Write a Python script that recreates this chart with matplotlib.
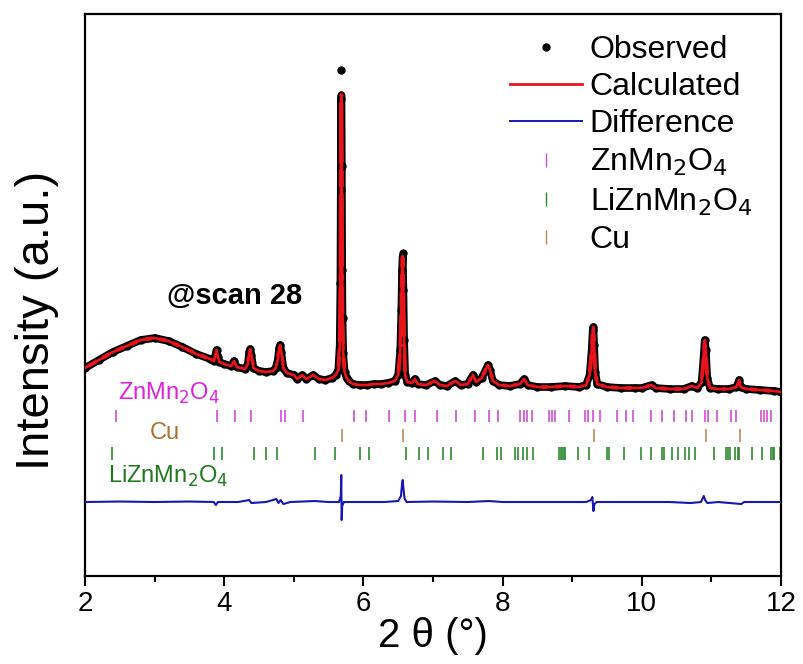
import numpy as np
import matplotlib
matplotlib.use("Agg")
import matplotlib.pyplot as plt
import matplotlib.patheffects as pe
from matplotlib.lines import Line2D

plt.rcParams['font.family'] = ['Liberation Sans', 'DejaVu Sans']

# observed profile (2theta, intensity a.u.)
obs_x = [2.00, 2.20, 2.40, 2.60, 2.80, 3.00, 3.20, 3.40, 3.60, 3.80,
         3.85, 3.87, 3.89, 3.91, 3.93, 4.00, 4.10, 4.14, 4.18,
         4.30, 4.34, 4.36, 4.375, 4.39, 4.42, 4.50, 4.60, 4.70,
         4.74, 4.77, 4.79, 4.805, 4.82, 4.85, 4.90, 5.00, 5.05, 5.12, 5.18,
         5.28, 5.36, 5.45, 5.55, 5.60, 5.64,
         5.66, 5.67, 5.675, 5.68, 5.685, 5.69, 5.695, 5.70, 5.71, 5.73,
         5.76, 5.79, 5.85, 5.95, 6.05, 6.15, 6.25, 6.35, 6.45, 6.50,
         6.53, 6.545, 6.555, 6.565, 6.575, 6.585, 6.60, 6.63, 6.70, 6.74,
         6.78, 6.90, 7.03, 7.10, 7.20, 7.32, 7.40, 7.50, 7.575, 7.62,
         7.70, 7.79, 7.82, 7.86, 7.95, 8.10, 8.25, 8.31, 8.36, 8.50,
         8.70, 8.90, 9.10, 9.20, 9.25, 9.28, 9.295, 9.305, 9.315, 9.33,
         9.36, 9.50, 9.70, 9.90, 10.00, 10.14, 10.20, 10.40, 10.60, 10.72,
         10.80, 10.86, 10.89, 10.905, 10.92, 10.94, 10.98, 11.10, 11.25, 11.36,
         11.40, 11.42, 11.50, 11.70, 11.90, 12.00]
obs_y = [208, 216, 224, 230, 236, 238, 235, 229, 222, 217,
         215, 220, 226, 219, 214, 212, 210, 215, 209,
         207, 212, 224, 227, 221, 208, 205, 204, 205,
         208, 216, 228, 231, 224, 208, 203, 201, 197, 201, 197,
         201, 197, 196, 198, 201, 206,
         231, 293, 386, 477, 506, 410, 306, 258, 223, 204,
         198, 195, 192, 191, 191, 192, 192, 193, 195, 201,
         226, 266, 306, 323, 286, 236, 201, 194, 193, 197,
         192, 191, 195, 191, 190, 195, 191, 192, 201, 194,
         198, 211, 206, 195, 191, 190, 192, 197, 191, 189,
         189, 190, 189, 191, 201, 226, 246, 249, 231, 204,
         192, 189, 188, 188, 188, 191, 188, 187, 187, 190,
         188, 194, 221, 236, 226, 198, 188, 187, 187, 189,
         196, 189, 187, 186, 185, 184]

# calculated profile differs from observed only at the two strong peak tops
calc_tops = {5.685: 481, 6.565: 320}
calc_y = [calc_tops.get(x, y) for x, y in zip(obs_x, obs_y)]

# difference curve (offset)
diff_x = [2.0, 2.5, 3.0, 3.5, 3.85, 3.88, 3.91, 4.2, 4.36, 4.39, 4.6, 4.75, 4.78,
          4.81, 4.85, 4.95, 5.3, 5.5, 5.65, 5.675, 5.682, 5.688, 5.695, 5.72, 6.0,
          6.3, 6.5, 6.54, 6.555, 6.565, 6.575, 6.59, 6.62, 7.0, 7.5, 7.8, 8.0, 8.5,
          9.0, 9.2, 9.27, 9.29, 9.305, 9.32, 9.35, 9.8, 10.4, 10.7, 10.85, 10.89,
          10.91, 10.94, 11.1, 11.43, 11.47, 12.0]
diff_y = [74, 74.5, 74, 74.5, 74, 71, 74, 74, 76, 73, 74, 77, 73,
          76, 72, 74, 75, 74, 74, 80, 101, 56, 70, 74, 74,
          74, 75, 80, 92, 96, 88, 78, 74, 74.5, 74, 75, 74, 74,
          74, 74, 76, 79, 65, 72, 74, 74, 74, 73, 74, 80,
          76, 73, 74, 72, 74, 74]

# Bragg reflection positions
znmn2o4_pos = [2.441, 3.892, 4.151, 4.381, 4.812, 4.869, 5.136, 5.869, 6.033, 6.364,
               6.602, 6.746, 7.053, 7.326, 7.603, 7.805, 7.934, 8.250, 8.303, 8.355,
               8.427, 8.662, 8.714, 8.757, 8.958, 9.180, 9.231, 9.295, 9.404, 9.639,
               9.773, 9.878, 10.128, 10.290, 10.467, 10.635, 10.721, 10.908, 10.951,
               11.085, 11.277, 11.349, 11.708, 11.756, 11.803, 11.856]
cu_pos = [5.693, 6.573, 9.309, 10.918, 11.411]
lizn_pos = [2.383, 3.858, 3.964, 4.433, 4.596, 4.763, 5.305, 5.592, 5.947, 6.080,
            6.616, 6.799, 6.924, 7.148, 7.259, 7.714, 7.915, 7.977, 8.174, 8.217,
            8.297, 8.355, 8.441, 8.806, 8.835, 8.858, 8.882, 8.901, 9.079, 9.241,
            9.504, 9.533, 9.749, 9.989, 10.132, 10.295, 10.319, 10.438, 10.516,
            10.621, 10.674, 10.760, 11.037, 11.210, 11.234, 11.263, 11.339, 11.382,
            11.401, 11.583, 11.722, 11.856, 11.881, 11.904, 11.986]

zn_color = '#d24fd6'
cu_color = '#c08a5a'
li_color = '#2f8a2f'
red = '#e8141c'
blue = '#1818b0'

fig = plt.figure(figsize=(8.04, 6.64), dpi=100)
ax = fig.add_axes([0.1057, 0.1325, 0.8657, 0.8464])

ax.plot(obs_x, calc_y, color=red, lw=2.8, zorder=3,
        path_effects=[pe.Stroke(linewidth=5.5, foreground='black'), pe.Normal()])
ax.plot(obs_x, obs_y, 'o', color='black', ms=5, zorder=4)
ax.plot(obs_x, calc_y, color=red, lw=2.0, zorder=5)
ax.plot(diff_x, diff_y, color=blue, lw=1.5, zorder=3)

ax.vlines(znmn2o4_pos, 154, 166, color=zn_color, lw=1.2)
ax.vlines(cu_pos, 134, 147, color=cu_color, lw=1.2)
ax.vlines(lizn_pos, 116, 129, color=li_color, lw=1.2)

ax.text(2.47, 183, 'ZnMn$_2$O$_4$', color='#dd22dd', fontsize=17, va='center')
ax.text(2.93, 143, 'Cu', color='#b0702f', fontsize=17, va='center')
ax.text(2.33, 100, 'LiZnMn$_2$O$_4$', color='#1f7a1f', fontsize=17, va='center')
ax.text(4.15, 280, '@scan 28', fontsize=21, fontweight='bold', ha='center', va='center')

handles = [
    Line2D([], [], ls='none', marker='o', color='black', ms=5),
    Line2D([], [], color=red, lw=2),
    Line2D([], [], color=blue, lw=1.4),
    Line2D([], [], ls='none', marker='|', color=zn_color, ms=10, mew=1),
    Line2D([], [], ls='none', marker='|', color=li_color, ms=10, mew=1),
    Line2D([], [], ls='none', marker='|', color=cu_color, ms=10, mew=1),
]
labels = ['Observed', 'Calculated', 'Difference', 'ZnMn$_2$O$_4$', 'LiZnMn$_2$O$_4$', 'Cu']
ax.legend(handles, labels, loc='upper right', bbox_to_anchor=(0.988, 1.0), frameon=False,
          fontsize=23, handlelength=2.25, handletextpad=0.25, labelspacing=0.23,
          borderaxespad=0.25)

ax.set_xlim(2, 12)
ax.set_ylim(0, 562)
ax.set_xticks([2, 4, 6, 8, 10, 12])
ax.set_xticks([3, 5, 7, 9, 11], minor=True)
ax.set_yticks([])
ax.tick_params(axis='x', which='major', direction='out', length=7, width=1.5, labelsize=20)
ax.tick_params(axis='x', which='minor', direction='out', length=4, width=1.5)
for s in ax.spines.values():
    s.set_linewidth(1.6)

ax.set_xlabel('2 θ (°)', fontsize=29, labelpad=0)
ax.set_ylabel('Intensity (a.u.)', fontsize=34)
ax.yaxis.set_label_coords(-0.038, 0.454)

fig.savefig('out.png', dpi=100)
